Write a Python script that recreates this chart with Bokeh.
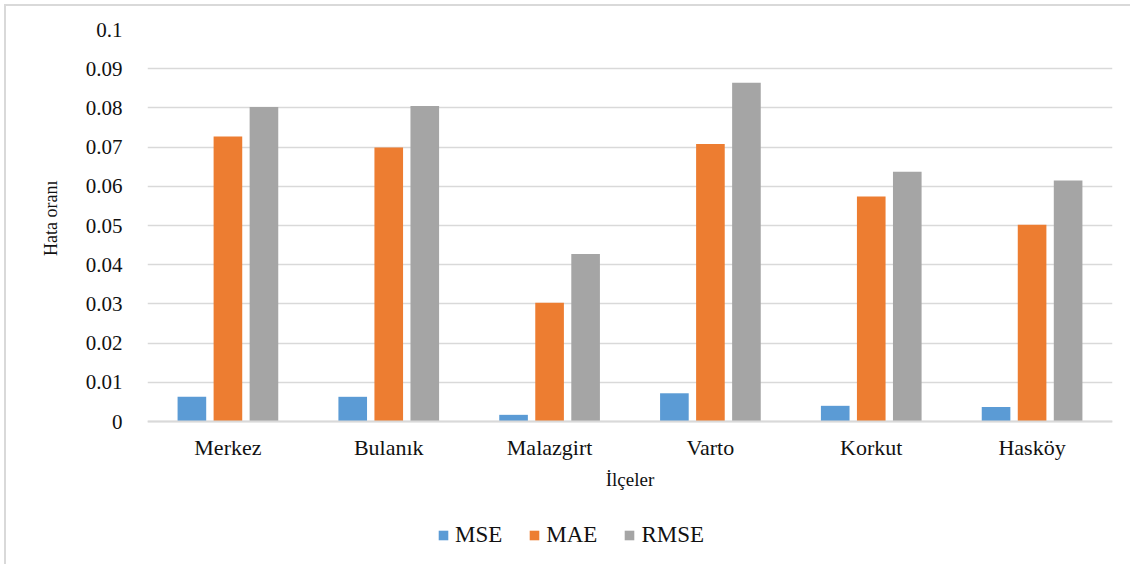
from bokeh.plotting import figure
from bokeh.models import (FactorRange, Range1d, FixedTicker, NumeralTickFormatter,
                          ColumnDataSource, Legend, LegendItem, Title, InlineStyleSheet)
from bokeh.transform import dodge
from bokeh.embed import file_html
from bokeh.resources import INLINE

# ---- data ----
districts = ["Merkez", "Bulanık", "Malazgirt", "Varto", "Korkut", "Hasköy"]
mse = [0.0063, 0.0063, 0.0017, 0.0072, 0.0040, 0.0037]
mae = [0.0727, 0.0699, 0.0303, 0.0708, 0.0574, 0.0502]
rmse = [0.0802, 0.0805, 0.0427, 0.0864, 0.0637, 0.0615]
series_names = ["MSE", "MAE", "RMSE"]
y_ticks = [0, 0.01, 0.02, 0.03, 0.04, 0.05, 0.06, 0.07, 0.08, 0.09, 0.1]
x_title = "İlçeler"
y_title = "Hata oranı"

# ---- style / layout ----
FONT = "Liberation Serif"
TXT = "#111111"
colors = ["#5B9BD5", "#ED7D31", "#A5A5A5"]
offsets = [-0.224, 0.0, 0.224]
bar_w = 0.178
GRID = "#D9D9D9"
PX_PER_UNIT = 3920.0          # 392 px for 0.1
BELOW_PX = 135                # frame space kept below y = 0 for labels and legend
Y_TOP = 0.1
Y_LOW = -BELOW_PX / PX_PER_UNIT

src = ColumnDataSource(dict(district=districts, MSE=mse, MAE=mae, RMSE=rmse))

p = figure(
    x_range=FactorRange(*districts, range_padding=0),
    y_range=Range1d(Y_LOW, Y_TOP),
    frame_width=965, frame_height=392 + BELOW_PX,
    output_backend="svg", toolbar_location=None,
    min_border_left=141, min_border_right=18,
    min_border_top=23, min_border_bottom=8,
)
p.outline_line_color = None
p.background_fill_color = "white"
p.border_fill_color = "white"
p.stylesheets = [InlineStyleSheet(css=(
    ":host { margin: 4px 0 0 4px; border-left: 2px solid #D9D9D9; "
    "border-top: 2px solid #D9D9D9; }"))]

renderers = []
for name, col, off in zip(series_names, colors, offsets):
    r = p.vbar(x=dodge("district", off, range=p.x_range), top=name, width=bar_w,
               source=src, fill_color=col, line_color=None)
    renderers.append(r)

# y axis
p.yaxis.ticker = FixedTicker(ticks=y_ticks)
p.yaxis.formatter = NumeralTickFormatter(format="0.[00]")
p.yaxis.axis_line_color = None
p.yaxis.major_tick_line_color = None
p.yaxis.minor_tick_line_color = None
p.yaxis.major_label_standoff = 19
p.yaxis.major_label_text_font = FONT
p.yaxis.major_label_text_font_size = "21px"
p.yaxis.major_label_text_color = TXT

# y title as a side title, its end placed 151 px below the frame top
ytitle = Title(text=y_title, align="right", offset=151, standoff=44,
               text_font=FONT, text_font_size="18px", text_font_style="normal",
               text_color=TXT)
p.add_layout(ytitle, "left")

# x axis drawn at y = 0 inside the frame
p.xaxis.fixed_location = 0
p.xaxis.axis_line_color = GRID
p.xaxis.axis_line_width = 2
p.xaxis.major_tick_line_color = None
p.xaxis.minor_tick_line_color = None
p.xaxis.major_label_standoff = 7
p.xaxis.major_label_text_font = FONT
p.xaxis.major_label_text_font_size = "22px"
p.xaxis.major_label_text_color = TXT
p.xaxis.axis_label = x_title
p.xaxis.axis_label_text_font = FONT
p.xaxis.axis_label_text_font_size = "19px"
p.xaxis.axis_label_text_font_style = "normal"
p.xaxis.axis_label_text_color = TXT
p.xaxis.axis_label_standoff = 6

# grid
p.xgrid.grid_line_color = None
p.ygrid.grid_line_color = GRID
p.ygrid.grid_line_width = 1.6

# legend inside the frame, below the axis title
lg = Legend(items=[LegendItem(label=n, renderers=[r]) for n, r in zip(series_names, renderers)])
lg.orientation = "horizontal"
lg.location = (290, 8)
lg.border_line_color = None
lg.background_fill_alpha = 0
lg.padding = 0
lg.margin = 0
lg.spacing = 26
lg.glyph_width = 12
lg.glyph_height = 12
lg.label_standoff = 6
lg.label_height = 22
lg.label_text_font = FONT
lg.label_text_font_size = "23px"
lg.label_text_color = TXT
p.add_layout(lg, "center")

open("out.html", "w").write(file_html(p, INLINE))
